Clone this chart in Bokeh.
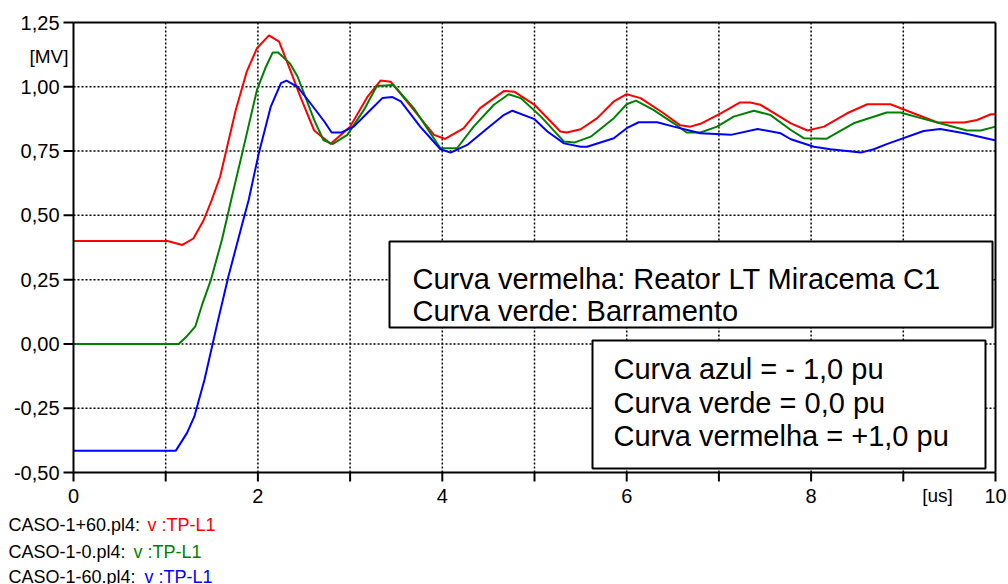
from bokeh.plotting import figure
from bokeh.models import Range1d, BoxAnnotation, Label
from bokeh.core.properties import value
from bokeh.embed import file_html
from bokeh.resources import INLINE

# ---------------- data ----------------
red_t = [0, 1.02, 1.18, 1.30, 1.41, 1.50, 1.59, 1.76, 1.88, 1.99, 2.12, 2.23, 2.35, 2.46, 2.61, 2.79,
         3.0, 3.19, 3.33, 3.44, 3.69, 3.91, 4.03, 4.23, 4.41, 4.67, 4.78, 5.0, 5.28, 5.35, 5.50, 5.68,
         5.86, 6.0, 6.15, 6.40, 6.58, 6.69, 6.80, 7.02, 7.23, 7.34, 7.45, 7.78, 7.96, 8.14, 8.39, 8.61,
         8.86, 9.11, 9.37, 9.66, 9.80, 9.95, 10.0]
red_v = [0.40, 0.40, 0.385, 0.41, 0.48, 0.56, 0.65, 0.91, 1.06, 1.15, 1.20, 1.176, 1.066, 0.962, 0.83, 0.778,
         0.845, 0.962, 1.024, 1.02, 0.91, 0.813, 0.797, 0.838, 0.917, 0.984, 0.981, 0.93, 0.826, 0.822, 0.835, 0.878,
         0.943, 0.971, 0.956, 0.897, 0.850, 0.845, 0.856, 0.897, 0.939, 0.939, 0.93, 0.858, 0.83, 0.845, 0.897, 0.932,
         0.932, 0.897, 0.861, 0.861, 0.871, 0.893, 0.893]

green_t = [0, 1.14, 1.23, 1.32, 1.40, 1.49, 1.61, 1.71, 1.83, 1.99, 2.08, 2.16, 2.22, 2.35, 2.43, 2.61, 2.71,
           2.81, 2.97, 3.15, 3.29, 3.47, 3.69, 3.98, 4.16, 4.34, 4.56, 4.72, 4.85, 5.07, 5.32, 5.43, 5.61,
           5.86, 6.0, 6.10, 6.29, 6.51, 6.65, 6.80, 6.98, 7.16, 7.38, 7.56, 7.78, 7.92, 8.17, 8.46, 8.82,
           8.97, 9.19, 9.40, 9.69, 9.84, 10.0]
green_v = [0.0, 0.0, 0.03, 0.067, 0.158, 0.249, 0.405, 0.56, 0.742, 0.988, 1.072, 1.133, 1.133, 1.09, 1.04, 0.871, 0.793,
           0.777, 0.813, 0.91, 1.003, 1.007, 0.917, 0.761, 0.761, 0.845, 0.93, 0.971, 0.956, 0.884, 0.787, 0.783, 0.806,
           0.878, 0.932, 0.946, 0.91, 0.858, 0.822, 0.822, 0.845, 0.884, 0.907, 0.89, 0.832, 0.80, 0.798, 0.858, 0.90,
           0.90, 0.878, 0.858, 0.83, 0.83, 0.845]

blue_t = [0, 1.11, 1.23, 1.31, 1.42, 1.56, 1.68, 1.84, 1.90, 2.01, 2.14, 2.25, 2.31, 2.43, 2.57, 2.72, 2.80,
          2.90, 3.04, 3.22, 3.35, 3.46, 3.55, 3.76, 3.98, 4.09, 4.27, 4.49, 4.67, 4.76, 5.0, 5.14, 5.32,
          5.50, 5.57, 5.86, 6.0, 6.13, 6.33, 6.51, 6.80, 7.13, 7.42, 7.67, 7.78, 8.03, 8.21, 8.54, 8.68,
          8.82, 9.22, 9.40, 9.66, 9.98, 10.0]
blue_v = [-0.415, -0.415, -0.347, -0.283, -0.14, 0.08, 0.262, 0.48, 0.56, 0.742, 0.923, 1.014, 1.024, 1.0, 0.936, 0.865, 0.822,
          0.822, 0.845, 0.91, 0.956, 0.96, 0.943, 0.845, 0.757, 0.744, 0.774, 0.839, 0.891, 0.907, 0.874, 0.826, 0.78,
          0.767, 0.767, 0.80, 0.839, 0.862, 0.862, 0.845, 0.819, 0.813, 0.836, 0.819, 0.796, 0.767, 0.757, 0.744, 0.757,
          0.777, 0.828, 0.836, 0.819, 0.793, 0.792]

x_tick_marks = [0, 1, 2, 3, 4, 5, 6, 7, 8, 9, 10]
x_label_ticks = [0, 2, 4, 6, 8, 10]
x_tick_labels = ["0", "2", "4", "6", "8", "10"]
y_ticks = [-0.5, -0.25, 0.0, 0.25, 0.5, 0.75, 1.0, 1.25]
y_tick_labels = ["-0,50", "-0,25", "0,00", "0,25", "0,50", "0,75", "1,00", "1,25"]
x_unit = "[us]"
y_unit = "[MV]"

box1_lines = ["Curva vermelha: Reator LT Miracema C1", "Curva verde: Barramento"]
box2_lines = ["Curva azul = - 1,0 pu", "Curva verde = 0,0 pu", "Curva vermelha = +1,0 pu"]
legend_files = ["CASO-1+60.pl4:", "CASO-1-0.pl4:", "CASO-1-60.pl4:"]
legend_vars = ["v :TP-L1", "v :TP-L1", "v :TP-L1"]
legend_colors = ["#ff0000", "#008000", "#0000ff"]

FONT = value("Liberation Sans")

# ---------------- canvas / frame geometry (pixels) ----------------
W, H = 1008, 584
FL, FR, FT, FB = 73, 995, 22, 472          # plot box inside the canvas
X0, X1 = x_tick_marks[0], x_tick_marks[-1]
Y0, Y1 = y_ticks[0], y_ticks[-1]
kx = (X1 - X0) / (FR - FL)                  # data units per pixel
ky = (Y1 - Y0) / (FB - FT)


def xpx(px):
    return X0 + (px - FL) * kx


def ypx(py):
    return Y1 - (py - FT) * ky


p = figure(width=W, height=H, output_backend="svg", toolbar_location=None, title=None,
           x_axis_location=None, y_axis_location=None, min_border=0,
           x_range=Range1d(xpx(0), xpx(W)), y_range=Range1d(ypx(H), ypx(0)))
p.grid.visible = False
p.outline_line_color = None
p.background_fill_color = "white"
p.border_fill_color = "white"

# dotted grid
gx = x_tick_marks[1:-1]
p.segment(x0=gx, y0=[Y0] * len(gx), x1=gx, y1=[Y1] * len(gx),
          line_color="black", line_width=1.5, line_dash="2 2")
gy = y_ticks[1:-1]
p.segment(x0=[X0] * len(gy), y0=gy, x1=[X1] * len(gy), y1=gy,
          line_color="black", line_width=1.5, line_dash="2 2")

# curves
for t, v, c in [(red_t, red_v, legend_colors[0]), (green_t, green_v, legend_colors[1]),
                (blue_t, blue_v, legend_colors[2])]:
    p.line(t, v, line_color=c, line_width=2)

# plot box
p.segment(x0=[X0, X0, X0, X1], y0=[Y0, Y1, Y0, Y0], x1=[X1, X1, X0, X1], y1=[Y0, Y1, Y1, Y1],
          line_color="black", line_width=2)

# tick marks
p.segment(x0=[X0] * len(y_ticks), y0=y_ticks, x1=[xpx(FL - 10)] * len(y_ticks), y1=y_ticks,
          line_color="black", line_width=2)
p.segment(x0=x_tick_marks, y0=[Y0] * len(x_tick_marks), x1=x_tick_marks,
          y1=[ypx(FB + 9)] * len(x_tick_marks), line_color="black", line_width=2)

# tick labels
p.text(x=[xpx(FL - 14)] * len(y_ticks), y=y_ticks, text=y_tick_labels, text_align="right",
       text_baseline="middle", text_font=FONT, text_font_size=value("20px"), text_color="black")
p.text(x=x_label_ticks, y=[ypx(FB + 23)] * len(x_label_ticks), text=x_tick_labels,
       text_align="center", text_baseline="middle", text_font=FONT, text_font_size=value("20px"),
       text_color="black")
p.text(x=[xpx(FL - 5)], y=[ypx(56)], text=[y_unit], text_align="right", text_baseline="middle",
       text_font=FONT, text_font_size=value("19px"), text_color="black")
p.text(x=[xpx(937)], y=[ypx(FB + 23)], text=[x_unit], text_align="center", text_baseline="middle",
       text_font=FONT, text_font_size=value("19px"), text_color="black")

# annotation boxes
p.add_layout(BoxAnnotation(left=xpx(389), right=xpx(992), top=ypx(241), bottom=ypx(327),
                           fill_color="white", fill_alpha=1, line_color="black", line_alpha=1,
                           line_width=2))
p.add_layout(BoxAnnotation(left=xpx(592), right=xpx(985), top=ypx(340), bottom=ypx(468),
                           fill_color="white", fill_alpha=1, line_color="black", line_alpha=1,
                           line_width=2))
for txt, py in zip(box1_lines, [278, 310]):
    p.add_layout(Label(x=xpx(412), y=ypx(py), text=txt, text_baseline="middle", text_font="Liberation Sans",
                       text_font_size="29px", text_color="black"))
for txt, py in zip(box2_lines, [368, 402, 435]):
    p.add_layout(Label(x=xpx(613), y=ypx(py), text=txt, text_baseline="middle", text_font="Liberation Sans",
                       text_font_size="29px", text_color="black"))

# bottom file legend
rows_py = [524, 551, 576]
var_px = [147, 133, 144]
p.text(x=[xpx(8)] * 3, y=[ypx(r) for r in rows_py], text=legend_files, text_align="left",
       text_baseline="middle", text_font=FONT, text_font_size=value("18px"), text_color="black")
p.text(x=[xpx(v) for v in var_px], y=[ypx(r) for r in rows_py], text=legend_vars, text_align="left",
       text_baseline="middle", text_font=FONT, text_font_size=value("18px"), text_color=legend_colors)

open("out.html", "w").write(file_html(p, INLINE))
